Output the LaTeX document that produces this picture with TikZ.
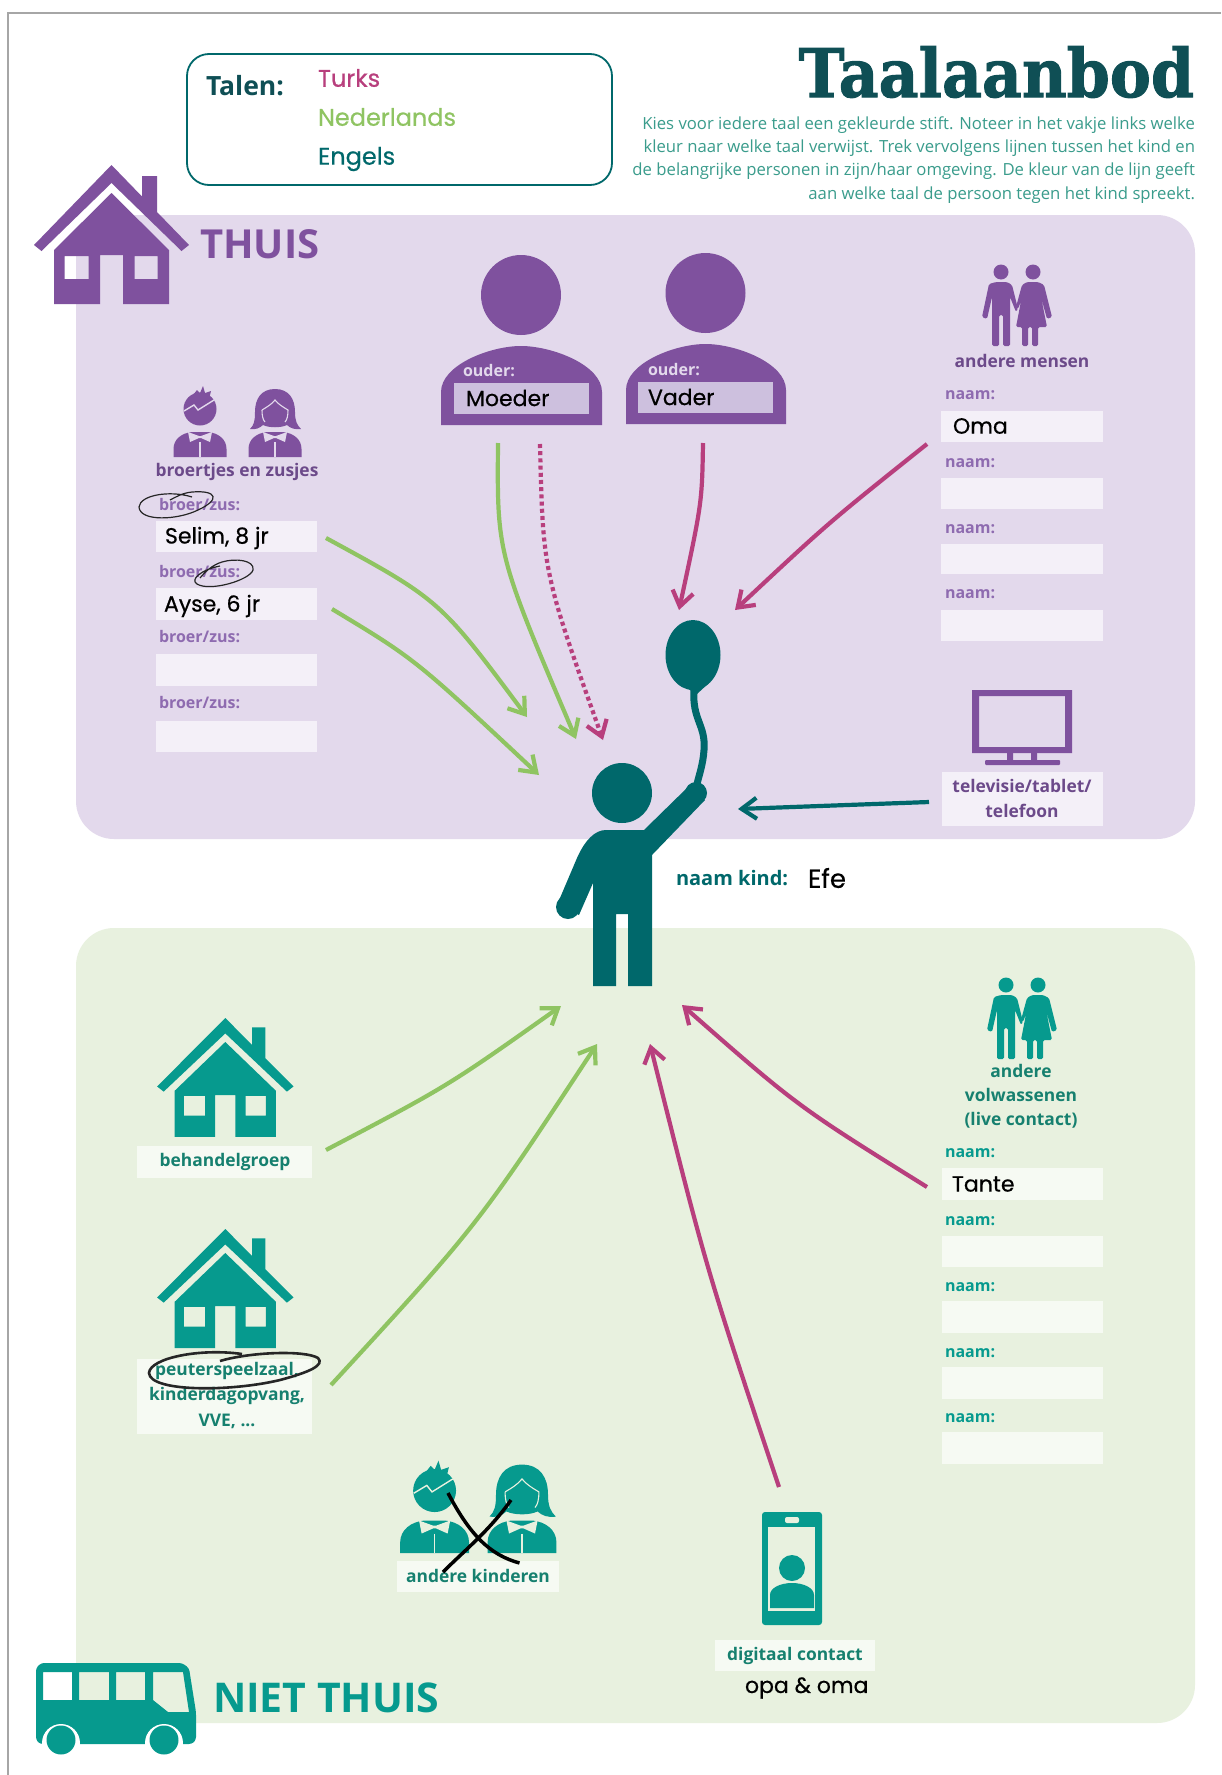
\documentclass[tikz,border=0pt]{standalone}
\usepackage{fontspec}
\setmainfont{Open Sans}
\newfontfamily\handfont[FakeBold=0.5]{Poppins}
\newfontfamily\titlefont[FakeBold=1.5]{DejaVu Serif}
\usetikzlibrary{arrows.meta}
\definecolor{pur}{HTML}{7F519E}
\definecolor{purpanel}{HTML}{E3D9EC}
\definecolor{purbox}{HTML}{F4F0F8}
\definecolor{purbox2}{HTML}{CDC0DE}
\definecolor{purdark}{HTML}{6C4A8A}
\definecolor{purlabel}{HTML}{8E6BB0}
\definecolor{greenpanel}{HTML}{E8F1DF}
\definecolor{greenbox}{HTML}{F6FAF3}
\definecolor{tealicon}{HTML}{069A8E}
\definecolor{tealdark}{HTML}{00686B}
\definecolor{titleteal}{HTML}{0F4F55}
\definecolor{tealtext}{HTML}{16806F}
\definecolor{tealbody}{HTML}{3A9C8C}
\definecolor{lang1}{HTML}{B83F7D}
\definecolor{lang2}{HTML}{8FC462}
\newcommand\fsz[1]{\fontsize{#1}{#1}\selectfont}
\tikzset{
  txt/.style={inner sep=0pt,outer sep=0pt},
  hand/.style={txt,anchor=west,text=black,font=\handfont\fsz{22}},
  legend/.style={txt,anchor=west,font=\handfont\fsz{24}},
  bodyline/.style={txt,anchor=east,text=tealbody,font=\fsz{16.7}},
  headpur/.style={txt,text=purdark,font=\bfseries\fsz{17.4}},
  headteal/.style={txt,text=tealtext,font=\bfseries\fsz{17.4}},
  labpur/.style={txt,anchor=west,text=purlabel,font=\bfseries\fsz{16}},
  labteal/.style={txt,anchor=west,text=tealicon,font=\bfseries\fsz{16}},
  oudertxt/.style={txt,anchor=west,text=purpanel,font=\bfseries\fsz{16}},
  arrowbase/.style={line width=4.2pt,-{Straight Barb[length=15pt,width=21pt,line width=4.2pt]}},
  arrgreen/.style={arrowbase,draw=lang2},
  arrpink/.style={arrowbase,draw=lang1},
  arrdot/.style={arrowbase,draw=lang1,dash pattern=on 4pt off 3.2pt},
  arrteal/.style={arrowbase,draw=tealdark},
  scribble/.style={draw=black!85,line width=1.2pt},
}
\newcommand\drawHouse[5]{\begin{scope}[shift={(#1,#2)},xscale=#3,yscale=#4]
  \fill[#5] (0,0) -- (30.5,31.5) -- (30.5,11) -- (45.5,11) -- (45.5,47) -- (77.5,80) -- (70,86) -- (0,18) -- (-70,86) -- (-77.5,80) -- cycle;
  \fill[#5,even odd rule] (0,28) -- (57.5,85) -- (57.5,139) -- (11.5,139) -- (11.5,90) -- (-11.5,90) -- (-11.5,139) -- (-57.5,139) -- (-57.5,85) -- cycle
     (-47,91) rectangle (-23,114) (23,91) rectangle (46,114);
\end{scope}}
\newcommand\drawCouple[3]{\begin{scope}[shift={(#1,#2)}]
  \fill[#3] (-16,7) circle (7.5) (16,7) circle (7.5);
  \fill[#3,rounded corners=1.5pt] (-21,17) -- (-28,19) -- (-35,52) -- (-30,54) -- (-25,32) -- (-25,81) -- (-18,81) -- (-18,50) -- (-14,50) -- (-14,81) -- (-7,81) -- (-7,32) -- (-1,47) -- (1,44) -- (-5,20) -- (-10,17) -- cycle;
  \fill[#3,rounded corners=1.5pt] (10,17) -- (21,17) -- (27,20) -- (35,52) -- (30,54) -- (24,32) -- (30,62) -- (21,62) -- (21,81) -- (15,81) -- (15,62) -- (11,62) -- (11,81) -- (5,81) -- (5,62) -- (-1,62) -- (4,36) -- (1,44) -- (-1,42) -- (5,20) -- cycle;
\end{scope}}
\newcommand\kidBody[2]{%
  \fill[#1] (-26.5,0) -- (-26.5,-8) .. controls (-26.5,-18) and (-18,-24) .. (-8,-25) -- (8,-25) .. controls (18,-24) and (26.5,-18) .. (26.5,-8) -- (26.5,0) -- cycle;
  \fill[#2] (-12,-25) -- (-1,-21) -- (1,-21) -- (12,-25) -- (10,-15) -- (1,-19) -- (-1,-19) -- (-10,-15) -- cycle;
  \draw[#2,line width=1.3pt] (0,-15) -- (0,0);}
\newcommand\drawBoy[5]{\begin{scope}[shift={(#1,#2)},scale=#3]
  \kidBody{#4}{#5}
  \fill[#4] (0,-48) circle (16.5);
  \fill[#4] (-7,-62) -- (-3,-67) -- (0,-64) -- (3,-71) -- (5,-64) -- (11,-66) -- (9,-58) -- cycle;
  \draw[#5,line width=1.4pt] (-16,-46) -- (-6,-52) -- (-2,-47) -- (14,-57);
\end{scope}}
\newcommand\drawGirl[5]{\begin{scope}[shift={(#1,#2)},scale=#3]
  \kidBody{#4}{#5}
  \fill[#4] (0,-68) .. controls (-14,-68) and (-20,-58) .. (-20,-45) .. controls (-20,-36) and (-21,-32) .. (-25,-28) .. controls (-20,-27) and (-15,-29) .. (-12,-32) .. controls (-6,-29) and (6,-29) .. (12,-32) .. controls (15,-29) and (20,-27) .. (26,-28) .. controls (22,-32) and (20,-36) .. (20,-45) .. controls (20,-58) and (14,-68) .. (0,-68) -- cycle;
  \draw[#5,line width=1.1pt] (-13,-47) .. controls (-8,-50) and (-3,-53) .. (0,-57) .. controls (3,-53) and (8,-50) .. (13,-47) .. controls (13,-41) and (12,-37) .. (10,-35);
  \draw[#5,line width=1.1pt] (-13,-47) .. controls (-13,-41) and (-12,-37) .. (-10,-35);
\end{scope}}
\begin{document}
\begin{tikzpicture}[x=1pt,y=-1pt]
\useasboundingbox (0,0) rectangle (1221,1775);
\fill[white] (0,0) rectangle (1221,1775);
% frame
\draw[black!35,line width=2pt] (8,1775) -- (8,13) -- (1221,13);
% panels
\fill[purpanel,rounded corners=38pt] (76,215) rectangle (1195,839);
\fill[greenpanel,rounded corners=38pt] (76,928) rectangle (1195,1723);
% legend
\draw[tealdark,line width=1.8pt,rounded corners=22pt] (187,54) rectangle (612,185);
\node[txt,anchor=base west,text=titleteal,font=\bfseries\fsz{26.5}] (talen) at (206,95) {Talen:};
\node[legend,text=lang1] (turks) at (318,78) {Turks};
\node[legend,text=lang2] (nederlands) at (318,117) {Nederlands};
\node[legend,text=tealdark] (engels) at (318,159) {Engels};
% title
\node[txt,anchor=base east,text=titleteal,font=\titlefont\bfseries\fsz{67}] (title) at (1194,97) {\scalebox{0.92}[1]{Taalaanbod}};
\node[bodyline] (b1) at (1195,125) {Kies voor iedere taal een gekleurde stift. Noteer in het vakje links welke};
\node[bodyline] (b2) at (1195,148) {kleur naar welke taal verwijst. Trek vervolgens lijnen tussen het kind en};
\node[bodyline] (b3) at (1195,171) {de belangrijke personen in zijn/haar omgeving. De kleur van de lijn geeft};
\node[bodyline] (b4) at (1195,195) {aan welke taal de persoon tegen het kind spreekt.};
% home
\drawHouse{111.5}{165}{1}{1}{pur}
\node[txt,anchor=base west,text=pur,font=\bfseries\fsz{40}] (thuis) at (200,258) {THUIS};
% mother
\fill[pur] (521,295) circle (40);
\fill[pur] (441,425) -- (441,392) .. controls (441,365) and (490,346) .. (521,346) .. controls (552,346) and (602,365) .. (602,392) -- (602,425) -- cycle;
\fill[purbox2] (454,383) rectangle (589,414);
\node[oudertxt] (ouder1) at (463,371) {ouder:};
\node[hand] (moeder) at (466,398) {Moeder};
% father
\fill[pur] (705.5,293) circle (40);
\fill[pur] (626,424) -- (626,390) .. controls (626,363) and (675,344) .. (705.5,344) .. controls (736,344) and (786,363) .. (786,390) -- (786,424) -- cycle;
\fill[purbox2] (638,382) rectangle (773,413);
\node[oudertxt] (ouder2) at (648,370) {ouder:};
\node[hand] (vader) at (648,397) {Vader};
% siblings
\drawBoy{200}{457}{1}{pur}{purpanel}
\drawGirl{275}{457}{1}{pur}{purpanel}
\node[headpur] (sib) at (237,472) {broertjes en zusjes};
\foreach \i/\ly/\bt/\bb in {1/505/521/552,2/572/588/620,3/637/654/686,4/703/721/752}{
  \node[labpur] (br\i) at (159,\ly) {broer/zus:};
  \fill[purbox] (156,\bt) rectangle (317,\bb);
}
\node[hand] (selim) at (165,538) {Selim, 8 jr};
\node[hand] (ayse) at (164,606) {Ayse, 6 jr};
\draw[scribble] (192,497) .. controls (170,490) and (140,495) .. (139,507) .. controls (140,522) and (178,520) .. (198,510) .. controls (220,500) and (218,490) .. (192,492) .. controls (182,493) and (176,497) .. (170,500);
\draw[scribble] (220,566) .. controls (200,570) and (190,580) .. (197,584) .. controls (210,592) and (250,580) .. (253,570) .. controls (255,560) and (235,558) .. (222,562) .. controls (212,565) and (205,572) .. (200,578);
% others
\drawCouple{1017}{265}{pur}
\node[headpur] (andm) at (1022,361) {andere mensen};
\foreach \i/\ly/\bt/\bb in {1/395/411/442,2/463/478/509,3/529/544/574,4/594/610/641}{
  \node[labpur] (nm\i) at (945,\ly) {naam:};
  \fill[purbox] (941,\bt) rectangle (1103,\bb);
}
\node[hand] (oma) at (953,426) {Oma};
% tv
\fill[pur,even odd rule] (972,690) rectangle (1072,753) (979,696) rectangle (1065,747);
\fill[pur] (1007,753) rectangle (1013,760) (1031,753) rectangle (1037,760);
\fill[pur,rounded corners=1pt] (985,760) rectangle (1060,765);
\fill[purbox] (942,772) rectangle (1103,826);
\node[headpur] (tv1) at (1022,786) {televisie/tablet/};
\node[headpur] (tv2) at (1022,811) {telefoon};
% child
\fill[tealdark] (693,655) ellipse (27.5 and 35);
\fill[tealdark] (676,682) -- (697,694) -- (710,682) -- cycle;
\draw[tealdark,line width=7pt] (694,690) .. controls (692,720) and (706,725) .. (704,750) .. controls (703,765) and (699,775) .. (696,788);
\fill[tealdark] (622,793) circle (30);
\fill[tealdark] (606,830) -- (644,830) -- (690,785) -- (705,800) -- (652,855) -- (652,986) -- (628,986) -- (628,914) -- (616,914) -- (616,986) -- (593,986) -- (593,883) -- (579,915) -- (557,905) -- (577,858) .. controls (585,840) and (595,830) .. (606,830) -- cycle;
\fill[tealdark] (696,793) circle (11) (568,907) circle (12);
\node[txt,anchor=west,text=tealdark,font=\bfseries\fsz{20}] (naamkind) at (676,878) {naam kind:};
\node[hand,font=\handfont\fsz{26}] (efe) at (808,878) {Efe};
% coordinates for connectors
\coordinate (s1) at (326,538); \coordinate (t1) at (527,717);
\coordinate (s2) at (332,609); \coordinate (t2) at (539,775);
\coordinate (s3) at (498,443); \coordinate (t3) at (576,739);
\coordinate (s4) at (540,444); \coordinate (t4) at (603,740);
\coordinate (s5) at (703,443); \coordinate (t5) at (679,610);
\coordinate (s6) at (927,444); \coordinate (t6) at (735,610);
\coordinate (s7) at (929,802); \coordinate (t7) at (738,809);
\coordinate (s8) at (326,1150); \coordinate (t8) at (561,1006);
\coordinate (s9) at (331,1385); \coordinate (t9) at (597,1044);
\coordinate (s10) at (779,1487); \coordinate (t10) at (650,1044);
\coordinate (s11) at (927,1187); \coordinate (t11) at (682,1005);
\draw[arrgreen] (s1) .. controls (440,600) .. (t1);
\draw[arrgreen] (s2) .. controls (415,659) .. (t2);
\draw[arrgreen] (s3) .. controls (497,554) .. (t3);
\draw[arrdot] (s4) .. controls (543,572) .. (t4);
\draw[arrpink] (s5) .. controls (702,503) .. (t5);
\draw[arrpink] (s6) .. controls (828,523) .. (t6);
\draw[arrteal] (s7) -- (t7);
\draw[arrgreen] (s8) .. controls (448,1086) .. (t8);
\draw[arrgreen] (s9) .. controls (478,1225) .. (t9);
\draw[arrpink] (s10) .. controls (706,1268) .. (t10);
\draw[arrpink] (s11) .. controls (797,1106) .. (t11);
% outside home
\drawHouse{225.3}{1018}{0.88}{0.856}{tealicon}
\fill[greenbox] (137,1146) rectangle (312,1178);
\node[headteal] (beh) at (225,1162) {behandelgroep};
\drawHouse{225.3}{1229}{0.88}{0.856}{tealicon}
\fill[greenbox] (137,1359) rectangle (312,1434);
\node[headteal] (p1) at (227,1371) {peuterspeelzaal,};
\node[headteal] (p2) at (227,1396) {kinderdagopvang,};
\node[headteal] (p3) at (227,1421) {VVE, ...};
\draw[draw=black!85,line width=2.6pt] (242,1354) .. controls (200,1348) and (150,1358) .. (149,1373) .. controls (150,1392) and (230,1392) .. (280,1380) .. controls (310,1372) and (325,1365) .. (318,1358) .. controls (305,1350) and (250,1352) .. (220,1361);
% kids
\drawBoy{434.6}{1553}{1.3}{tealicon}{greenpanel}
\drawGirl{522}{1553}{1.3}{tealicon}{greenpanel}
\fill[greenbox] (397,1561) rectangle (559,1592);
\node[headteal] (kinderen) at (478,1576) {andere kinderen};
\draw[black,line width=3.5pt] (448,1493) .. controls (470,1535) and (490,1555) .. (519.5,1563);
\draw[black,line width=3.5pt] (511,1500) .. controls (490,1530) and (465,1550) .. (443,1572);
% volwassenen
\drawCouple{1022}{978}{tealicon}
\node[headteal] (v1) at (1021,1071) {andere};
\node[headteal] (v2) at (1021,1095) {volwassenen};
\node[headteal] (v3) at (1021,1120) {(live contact)};
\foreach \i/\ly/\bt/\bb in {1/1153/1168/1200,2/1221/1236/1267,3/1287/1301/1333,4/1353/1367/1399,5/1418/1432/1464}{
  \node[labteal] (vn\i) at (945,\ly) {naam:};
  \fill[greenbox] (942,\bt) rectangle (1103,\bb);
}
\node[hand] (tante) at (952,1184) {Tante};
% phone
\fill[tealicon,rounded corners=3pt] (762,1512) rectangle (822,1625);
\fill[greenpanel] (768,1527) rectangle (815,1611);
\fill[tealicon] (792,1568) circle (13);
\fill[tealicon] (770,1608) -- (770,1595) .. controls (770,1588) and (780,1583) .. (792,1583) .. controls (804,1583) and (814,1588) .. (814,1595) -- (814,1608) -- cycle;
\fill[greenpanel,rounded corners=2pt] (785,1517) rectangle (799,1523);
\fill[greenbox] (715,1640) rectangle (875,1671);
\node[headteal] (dig) at (795,1656) {digitaal contact};
\node[hand] (opa) at (745,1688) {opa \& oma};
% bus
\fill[tealicon,even odd rule] [rounded corners=3pt] (36,1668) -- (41,1663) -- (182,1663) -- (189,1668) -- (196,1712) -- (196,1740) -- (192,1744) -- (40,1744) -- (36,1740) -- cycle
  [sharp corners] (43,1672) rectangle (72,1700) (79,1672) rectangle (109,1700) (116,1672) rectangle (145,1700)
  (153,1672) -- (183,1672) -- (189,1712) -- (168,1712) -- (153,1700) -- cycle;
\fill[white] (61,1743) circle (19) (164,1743) circle (19);
\fill[tealicon] (61,1740) circle (14.5) (164,1740) circle (14.5);
\node[txt,anchor=base west,text=tealicon,font=\bfseries\fsz{41}] (niet) at (213,1712) {NIET THUIS};
\end{tikzpicture}
\end{document}
